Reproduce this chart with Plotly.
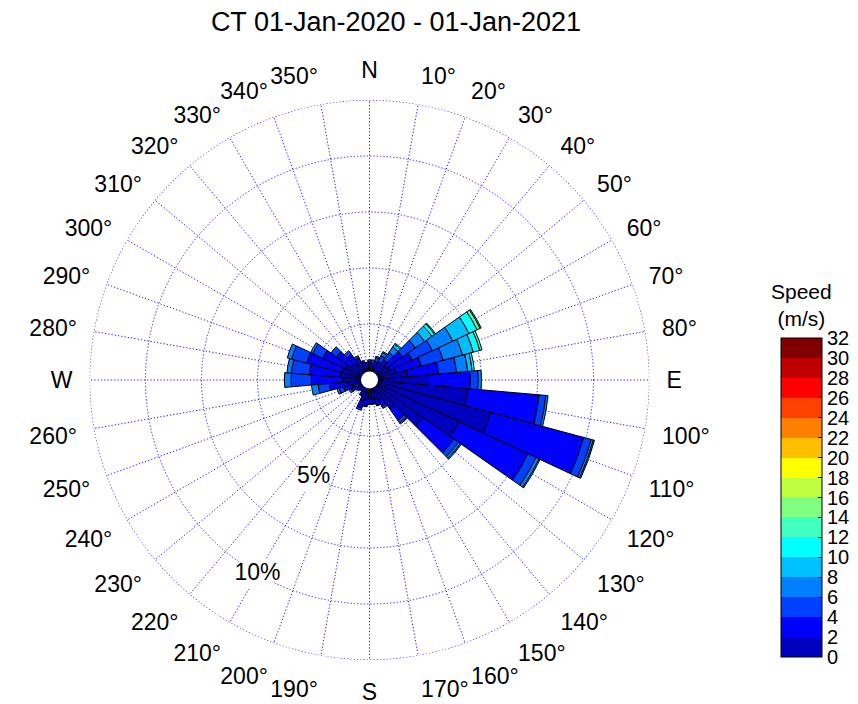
import plotly.graph_objects as go

# ---------------- data ----------------
directions = list(range(0, 360, 10))
speed_edges = list(range(0, 34, 2))  # 0..32 m/s
tick_labels = ["N" if d == 0 else "E" if d == 90 else "S" if d == 180 else "W" if d == 270 else f"{d}°"
               for d in directions]

# frequency (%) per direction for each speed bin
s_0_2 = [0.5, 0.45, 0.5, 0.5, 0.6, 0.9, 1.0, 1.2, 1.7, 2.6, 4.4, 5.6, 4.4, 2.9, 1.6, 1.0, 0.9, 0.85,
         0.85, 0.9, 1.0, 0.6, 0.45, 0.5, 0.65, 0.8, 1.0, 1.2, 1.3, 1.3, 1.2, 1.0, 0.9, 0.7, 0.55, 0.5]
s_2_4 = [0.3, 0.3, 0.35, 0.4, 0.5, 0.9, 1.1, 1.2, 1.4, 1.9, 3.2, 4.3, 3.4, 1.7, 0.6, 0.3, 0.25, 0.2,
         0.2, 0.25, 0.3, 0.15, 0.15, 0.15, 0.25, 0.4, 0.8, 1.4, 1.4, 1.6, 1.1, 0.8, 0.5, 0.4, 0.3, 0.25]
s_4_6 = [0.1, 0.15, 0.2, 0.3, 0.4, 0.7, 1.0, 1.0, 0.8, 0.35, 0.3, 0.35, 0.4, 0.25, 0.15, 0.1, 0.05, 0.05,
         0.05, 0.05, 0.1, 0.05, 0, 0.05, 0.1, 0.2, 0.5, 0.9, 0.8, 0.7, 0.5, 0.3, 0.2, 0.1, 0.05, 0.05]
s_6_8 = [0, 0, 0.05, 0.15, 0.3, 0.5, 1.0, 0.9, 0.5, 0.15, 0.1, 0.1, 0.15, 0.1, 0.05, 0, 0, 0,
         0, 0, 0, 0, 0, 0, 0, 0.1, 0.3, 0.3, 0.2, 0.2, 0.1, 0, 0, 0, 0, 0]
s_8_10 = [0, 0, 0, 0.05, 0.15, 0.4, 0.8, 0.5, 0.2, 0, 0, 0.05, 0.05, 0.05, 0, 0, 0, 0,
          0, 0, 0, 0, 0, 0, 0, 0, 0, 0, 0, 0, 0, 0, 0, 0, 0, 0]
s_10_12 = [0, 0, 0, 0, 0.05, 0.15, 0.4, 0.3, 0.1, 0, 0, 0, 0, 0, 0, 0, 0, 0,
           0, 0, 0, 0, 0, 0, 0, 0, 0, 0, 0, 0, 0, 0, 0, 0, 0, 0]
s_12_14 = [0, 0, 0, 0, 0, 0.05, 0.15, 0.1, 0, 0, 0, 0, 0, 0, 0, 0, 0, 0,
           0, 0, 0, 0, 0, 0, 0, 0, 0, 0, 0, 0, 0, 0, 0, 0, 0, 0]
s_14_16 = [0, 0, 0, 0, 0, 0, 0.05, 0, 0, 0, 0, 0, 0, 0, 0, 0, 0, 0,
           0, 0, 0, 0, 0, 0, 0, 0, 0, 0, 0, 0, 0, 0, 0, 0, 0, 0]
speed_bins = [s_0_2, s_2_4, s_4_6, s_6_8, s_8_10, s_10_12, s_12_14, s_14_16]

radial_rings = [2.5, 5, 7.5, 10, 12.5]
pct_labels = ["5%", "10%"]
pct_values = [5, 10]
title_text = "CT 01-Jan-2020 - 01-Jan-2021"

# ---------------- style ----------------
jet16 = [(0, 0, 191), (0, 0, 255), (0, 64, 255), (0, 128, 255), (0, 191, 255), (0, 255, 255),
         (64, 255, 191), (128, 255, 128), (191, 255, 64), (255, 255, 0), (255, 191, 0),
         (255, 128, 0), (255, 64, 0), (255, 0, 0), (191, 0, 0), (128, 0, 0)]
n = len(jet16)
colorscale = []
for i, c in enumerate(jet16):
    col = f"rgb{c}"
    colorscale.append([i / n, col])
    colorscale.append([(i + 1) / n, col])

FONT = "Liberation Sans, Arial, sans-serif"
GRID = "rgb(35,35,255)"
DASH = "1.3px,2px"
GRID_W = 1.2
OFF = 8  # page body margin


def px_x(x):
    return (x - OFF) / 858


def px_y(y):
    return (704 + OFF - y) / 704


fig = go.Figure()

for k, vals in enumerate(speed_bins):
    mid = (speed_edges[k] + speed_edges[k + 1]) / 2
    r = [v if v > 0 else None for v in vals]
    fig.add_trace(go.Barpolar(
        r=r, theta=directions, width=[10] * len(directions),
        marker=dict(color=[mid] * len(directions), colorscale=colorscale, cmin=0, cmax=32,
                    line=dict(color="black", width=1),
                    showscale=(k == 0),
                    colorbar=dict(x=px_x(781), xanchor="left", xpad=0, ypad=0,
                                  y=px_y(657), yanchor="bottom",
                                  len=319, lenmode="pixels", thickness=41, thicknessmode="pixels",
                                  outlinewidth=1, outlinecolor="black",
                                  tickvals=speed_edges, ticks="inside", ticklen=4, tickcolor="black",
                                  tickfont=dict(family=FONT, size=20, color="black"))),
        opacity=1, hoverinfo="skip", showlegend=False))

# outer dotted circle
fig.add_trace(go.Scatterpolar(r=[12.5] * 361, theta=list(range(361)), mode="lines",
                              line=dict(color=GRID, width=GRID_W, dash=DASH),
                              hoverinfo="skip", showlegend=False))
# white centre disk
fig.add_trace(go.Scatterpolar(r=[0], theta=[0], mode="markers",
                              marker=dict(color="white", size=17, line=dict(width=0)),
                              hoverinfo="skip", showlegend=False))
# percentage labels
fig.add_trace(go.Scatterpolar(r=pct_values, theta=[210, 210], mode="markers+text",
                              text=pct_labels, textposition="middle center",
                              textfont=dict(family=FONT, size=23, color="black"),
                              marker=dict(symbol="square", color="white", size=30),
                              hoverinfo="skip", showlegend=False))

fig.update_layout(
    width=858, height=704,
    margin=dict(l=0, r=0, t=0, b=0),
    paper_bgcolor="white",
    font=dict(family=FONT, color="black"),
    polar=dict(
        domain=dict(x=[px_x(89.5), px_x(649.5)], y=[px_y(660), px_y(100)]),
        bgcolor="white",
        barmode="stack",
        radialaxis=dict(range=[0, 12.5], tickvals=radial_rings, showticklabels=False,
                        showline=False, ticks="", gridcolor=GRID, griddash=DASH, gridwidth=GRID_W),
        angularaxis=dict(rotation=90, direction="clockwise", tickvals=directions, ticktext=tick_labels,
                         showline=False, ticks="outside", ticklen=12, tickcolor="rgba(0,0,0,0)",
                         gridcolor=GRID, griddash=DASH, gridwidth=GRID_W,
                         tickfont=dict(family=FONT, size=23, color="black")),
    ),
    title=dict(text=title_text, x=px_x(396), xanchor="center", y=px_y(22), yanchor="middle",
               font=dict(family=FONT, size=27, color="black")),
    annotations=[dict(text="Speed<br>(m/s)", x=px_x(801), y=px_y(305), xref="paper", yref="paper",
                      xanchor="center", yanchor="middle",
                      showarrow=False, font=dict(family=FONT, size=21, color="black"))],
)

fig.write_html("out.html")
